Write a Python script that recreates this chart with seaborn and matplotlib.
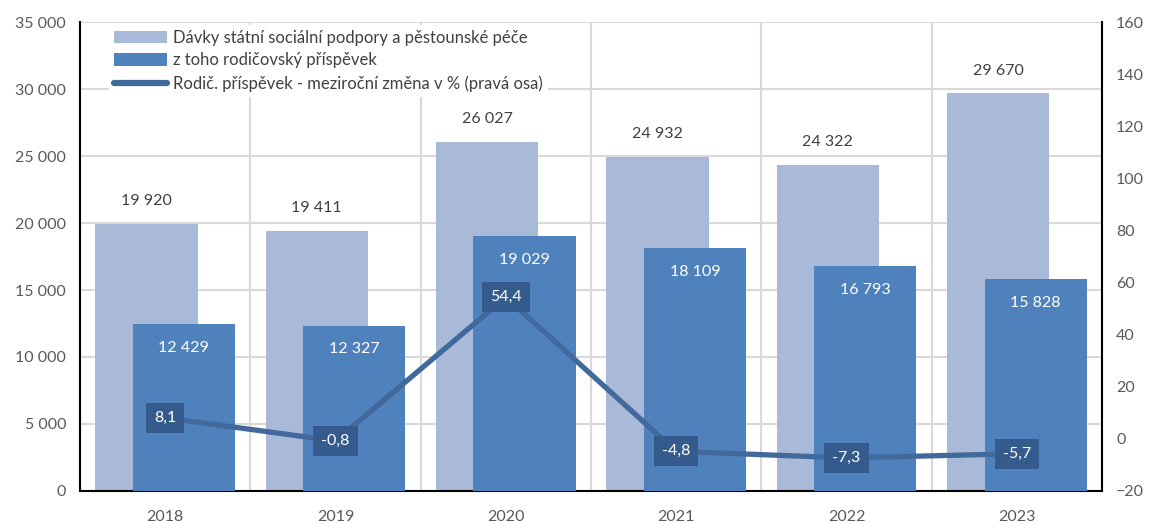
import numpy as np
import pandas as pd
import seaborn as sns
import matplotlib.pyplot as plt
from matplotlib.patches import Patch
from matplotlib.lines import Line2D
from matplotlib.ticker import FuncFormatter, MultipleLocator

# ---------------------------------------------------------------
# Data
# ---------------------------------------------------------------
years = ["2018", "2019", "2020", "2021", "2022", "2023"]
davky = [19920, 19411, 26027, 24932, 24322, 29670]   # Dávky SSP a pěstounské péče
rodic = [12429, 12327, 19029, 18109, 16793, 15828]   # z toho rodičovský příspěvek
zmena = [8.1, -0.8, 54.4, -4.8, -7.3, -5.7]          # meziroční změna v %

lab_davky = "Dávky státní sociální podpory a pěstounské péče"
lab_rodic = "z toho rodičovský příspěvek"
lab_zmena = "Rodič. příspěvek - meziroční změna v % (pravá osa)"

# colors
c_light = "#A9B9D8"
c_dark = "#4F81BD"
c_line = "#41699C"
c_box = "#345B8C"
c_grid = "#D9D9D9"
c_tick = "#595959"

df = pd.DataFrame({"rok": years, "davky": davky, "rodic": rodic, "zmena": zmena})

sns.set_theme(style="white")
plt.rcParams["font.family"] = ["Lato", "DejaVu Sans"]

fig = plt.figure(figsize=(11.49, 5.23), dpi=100)
ax = fig.add_axes([0.0696, 0.0612, 0.8896, 0.8967])

# ---------------------------------------------------------------
# Bars (two overlapping series, shifted left / right)
# ---------------------------------------------------------------
shift = 0.11
sns.barplot(data=df, x="rok", y="davky", color=c_light, width=0.6,
            saturation=1, ax=ax, zorder=2, linewidth=0, edgecolor="none")
n = len(ax.patches)
sns.barplot(data=df, x="rok", y="rodic", color=c_dark, width=0.6,
            saturation=1, ax=ax, zorder=3, linewidth=0, edgecolor="none")
for p in ax.patches[:n]:
    p.set_x(p.get_x() - shift)
for p in ax.patches[n:]:
    p.set_x(p.get_x() + shift)

fmt = lambda v: f"{v:,}".replace(",", " ")
for i, v in enumerate(davky):
    ax.annotate(fmt(v), (i - shift, v), xytext=(0, 16.5), textcoords="offset points",
                ha="center", va="center", fontsize=11.5, color="#404040", zorder=5,
                bbox=dict(boxstyle="square,pad=0.25", fc="white", ec="none"))
for i, v in enumerate(rodic):
    ax.annotate(fmt(v), (i + shift, v), xytext=(0, -17), textcoords="offset points",
                ha="center", va="center", fontsize=11.5, color="white", zorder=5)

ax.set_xlim(-0.5, len(years) - 0.5)
ax.set_ylim(0, 35000)
ax.yaxis.set_major_locator(MultipleLocator(5000))
ax.yaxis.set_major_formatter(FuncFormatter(lambda v, p: fmt(int(v))))
ax.set_xticks(np.arange(-0.5, len(years), 1), minor=True)
ax.grid(axis="y", which="major", color=c_grid, lw=1.5)
ax.grid(axis="x", which="minor", color=c_grid, lw=1.5)
ax.set_axisbelow(True)
ax.set_xlabel("")
ax.set_ylabel("")
ax.tick_params(axis="y", length=0, pad=10, labelsize=11.5, labelcolor=c_tick)
ax.tick_params(axis="x", which="both", length=0, pad=14, labelsize=11.5, labelcolor=c_tick)
for s in ["left", "bottom"]:
    ax.spines[s].set_color("black")
    ax.spines[s].set_linewidth(1.5)
ax.spines["top"].set_visible(False)
ax.spines["right"].set_visible(False)

# ---------------------------------------------------------------
# Line on right axis
# ---------------------------------------------------------------
ax2 = ax.twinx()
sns.lineplot(x=np.arange(len(years)), y=zmena, color=c_line, lw=3.8, ax=ax2)
for i, v in enumerate(zmena):
    ax2.text(i, v, f"{v:.1f}".replace(".", ","), ha="center", va="center",
             fontsize=11.5, color="white",
             bbox=dict(boxstyle="square,pad=0.5", fc=c_box, ec="none"))
ax2.set_ylim(-20, 160)
ax2.yaxis.set_major_locator(MultipleLocator(20))
ax2.tick_params(axis="y", length=0, pad=10, labelsize=11.5, labelcolor=c_tick)
ax2.grid(False)
for s in ["left", "bottom", "top"]:
    ax2.spines[s].set_visible(False)
ax2.spines["right"].set_color("black")
ax2.spines["right"].set_linewidth(1.5)

# ---------------------------------------------------------------
# Legend
# ---------------------------------------------------------------
handles = [Patch(facecolor=c_light, edgecolor="none"),
           Patch(facecolor=c_dark, edgecolor="none"),
           Line2D([0], [0], color=c_line, lw=4.5, solid_capstyle="round")]
leg = ax.legend(handles, [lab_davky, lab_rodic, lab_zmena], loc="upper left",
                bbox_to_anchor=(0.02, 1.012), fontsize=12, frameon=True,
                facecolor="white", edgecolor="none", framealpha=1, fancybox=False,
                handlelength=3.2, handleheight=0.75, handletextpad=0.35,
                labelspacing=0.4, borderpad=0.3)
for t in leg.get_texts():
    t.set_color("#404040")
leg.set_zorder(10)

fig.savefig("out.png", dpi=100)
